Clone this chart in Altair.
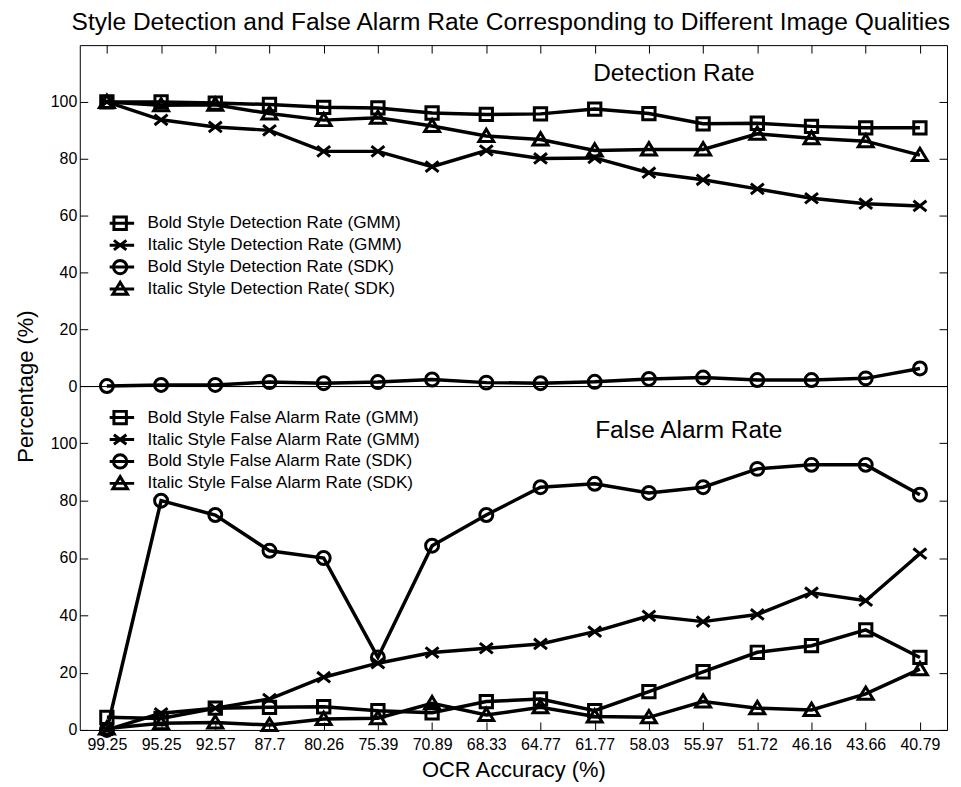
import altair as alt
import pandas as pd

FONT = "Liberation Sans"

cats = ["99.25", "95.25", "92.57", "87.7", "80.26", "75.39", "70.89", "68.33",
        "64.77", "61.77", "58.03", "55.97", "51.72", "46.16", "43.66", "40.79"]

det_labels = ["Bold Style Detection Rate (GMM)", "Italic Style Detection Rate (GMM)",
              "Bold Style Detection Rate (SDK)", "Italic Style Detection Rate( SDK)"]
fa_labels = ["Bold Style False Alarm Rate (GMM)", "Italic Style False Alarm Rate (GMM)",
             "Bold Style False Alarm Rate (SDK)", "Italic Style False Alarm Rate (SDK)"]

bold_gmm_det = [100, 100, 99.6, 99.1, 98.1, 97.9, 96.1, 95.6, 95.8, 97.5, 95.9, 92.3, 92.5, 91.4, 90.9, 90.9]
italic_gmm_det = [100, 93.7, 91.2, 90.0, 82.6, 82.6, 77.2, 82.9, 80.1, 80.3, 75.1, 72.6, 69.4, 66.1, 64.2, 63.4]
bold_sdk_det = [0, 0.4, 0.4, 1.4, 1.0, 1.4, 2.3, 1.2, 1.0, 1.5, 2.5, 3.0, 2.1, 2.1, 2.7, 6.2]
italic_sdk_det = [100, 98.8, 99.0, 95.9, 93.6, 94.4, 91.5, 88.0, 86.8, 82.9, 83.3, 83.3, 88.8, 87.2, 86.2, 81.3]

bold_gmm_fa = [4.4, 4.0, 7.6, 7.9, 8.1, 6.7, 6.0, 9.9, 10.8, 6.7, 13.4, 20.3, 27.1, 29.4, 34.9, 25.3]
italic_gmm_fa = [0, 5.8, 7.6, 10.8, 18.4, 23.3, 27.0, 28.5, 30.0, 34.3, 39.8, 37.8, 40.3, 47.9, 45.1, 61.5]
bold_sdk_fa = [0, 80, 75, 62.5, 60, 25.3, 64.3, 75, 84.7, 85.9, 82.7, 84.7, 91.1, 92.5, 92.5, 82.1]
italic_sdk_fa = [0.5, 2.3, 2.6, 1.7, 3.8, 4.1, 9.3, 5.2, 7.9, 4.7, 4.4, 9.9, 7.6, 7.0, 12.6, 21.2]

y_ticks = [0, 20, 40, 60, 80, 100]

# marker shapes (square, x, circle, triangle)
plot_shapes = [
    "M-0.95,-0.95H0.95V0.95H-0.95Z",
    "M-1,-0.8L1,0.8M-1,0.8L1,-0.8",
    "M1,0A1,1 0 1,1 -1,0A1,1 0 1,1 1,0Z",
    "M0,-1.05L1.15,0.85H-1.15Z",
]
legend_shapes = [
    "M-1.62,0H1.62M-0.72,-0.72H0.72V0.72H-0.72Z",
    "M-1.62,0H1.62M-0.72,-0.55L0.72,0.55M-0.72,0.55L0.72,-0.55",
    "M-1.62,0H1.62M0.77,0A0.77,0.77 0 1,1 -0.77,0A0.77,0.77 0 1,1 0.77,0Z",
    "M-1.62,0H1.62M0,-0.78L0.85,0.62H-0.85Z",
]

W = 870
H_TOP, H_BOT = 342, 345


def long_df(labels, series):
    rows = []
    for lab, vals in zip(labels, series):
        for c, v in zip(cats, vals):
            rows.append({"acc": c, "val": v, "series": lab})
    return pd.DataFrame(rows)


def panel(df, labels, label_text, label_x, label_y, leg_x, leg_y, top):
    H = H_TOP if top else H_BOT
    xscale = alt.Scale(type="point", padding=0.5)
    yscale = alt.Scale(domain=[0, 120], nice=False)
    base = alt.Chart(df)

    if top:
        x_line_axis = None
        x_tick_axis = alt.Axis(orient="bottom", offset=-H, labels=False, ticks=True, tickSize=8,
                               domain=False, grid=False, title=None)
        y_axis_kw = dict(title="Percentage (%)", titleY=H, titlePadding=13)
    else:
        x_line_axis = alt.Axis(orient="bottom", labels=True, ticks=False, domain=False, grid=False,
                               title="OCR Accuracy (%)", labelPadding=7, titlePadding=7, labelAngle=0)
        x_tick_axis = alt.Axis(orient="top", offset=-H, labels=False, ticks=True, tickSize=8,
                               domain=False, grid=False, title=None)
        y_axis_kw = dict(title=None)

    lines = base.mark_line(color="black", strokeWidth=3.5).encode(
        x=alt.X("acc:O", sort=cats, scale=xscale, axis=x_line_axis),
        y=alt.Y("val:Q", scale=yscale,
                axis=alt.Axis(orient="left", values=y_ticks, ticks=False, domain=False, grid=False,
                              labelPadding=3, **y_axis_kw)),
        detail="series:N",
    )
    pts = base.mark_point(filled=False, color="black", strokeWidth=3, size=169, opacity=1).encode(
        x=alt.X("acc:O", sort=cats, scale=xscale, axis=x_tick_axis),
        y=alt.Y("val:Q", scale=yscale,
                axis=alt.Axis(orient="right", offset=-W, values=y_ticks, labels=False, tickSize=8,
                              domain=False, grid=False, title=None)),
        shape=alt.Shape("series:N", scale=alt.Scale(domain=labels, range=plot_shapes), legend=None),
    )
    leg = base.mark_point(filled=False, color="black", opacity=0).encode(
        x=alt.X("acc:O", sort=cats, scale=xscale, axis=None),
        y=alt.Y("val:Q", scale=yscale,
                axis=alt.Axis(orient="left", offset=-W, values=y_ticks, labels=False, tickSize=8,
                              domain=False, grid=False, title=None)),
        shape=alt.Shape("series:N", scale=alt.Scale(domain=labels, range=legend_shapes),
                        legend=alt.Legend(orient="none", legendX=leg_x, legendY=leg_y, title=None,
                                          symbolSize=300, symbolStrokeWidth=3,
                                          symbolStrokeColor="black", symbolOpacity=1,
                                          symbolFillColor="transparent",
                                          labelFontSize=17.2, labelFont=FONT, labelColor="black",
                                          labelLimit=500, labelOffset=17, rowPadding=0,
                                          clipHeight=21.3, padding=0)),
    )
    txt = alt.Chart(pd.DataFrame({"t": [label_text]})).mark_text(
        align="left", baseline="middle", fontSize=24.5, font=FONT, color="black"
    ).encode(text="t:N", x=alt.value(label_x), y=alt.value(label_y))

    return alt.layer(lines, pts, leg, txt).resolve_scale(shape="independent").resolve_axis(
        x="independent", y="independent").properties(width=W, height=H)


top = panel(long_df(det_labels, [bold_gmm_det, italic_gmm_det, bold_sdk_det, italic_sdk_det]),
            det_labels, "Detection Rate", 515, 28.5, 30, 168, True)
bottom = panel(long_df(fa_labels, [bold_gmm_fa, italic_gmm_fa, bold_sdk_fa, italic_sdk_fa]),
               fa_labels, "False Alarm Rate", 517, 45, 30, 21, False)

chart = alt.vconcat(top, bottom, spacing=0, bounds="flush").resolve_scale(
    x="independent", y="independent", shape="independent"
).properties(
    padding={"left": 5, "right": 2, "top": 0, "bottom": 5},
    title=alt.TitleParams(text="Style Detection and False Alarm Rate Corresponding to Different Image Qualities",
                          fontSize=24.6, font=FONT, fontWeight="normal", color="black", anchor="middle",
                          offset=9, dx=30)
).configure_view(stroke="black", strokeWidth=1).configure_axis(
    labelFont=FONT, titleFont=FONT, labelFontSize=16, titleFontSize=22, labelColor="black",
    titleColor="black", titleFontWeight="normal", tickColor="black", tickWidth=1
)

chart.save("out.html", embed_options={"renderer": "svg", "actions": False})
